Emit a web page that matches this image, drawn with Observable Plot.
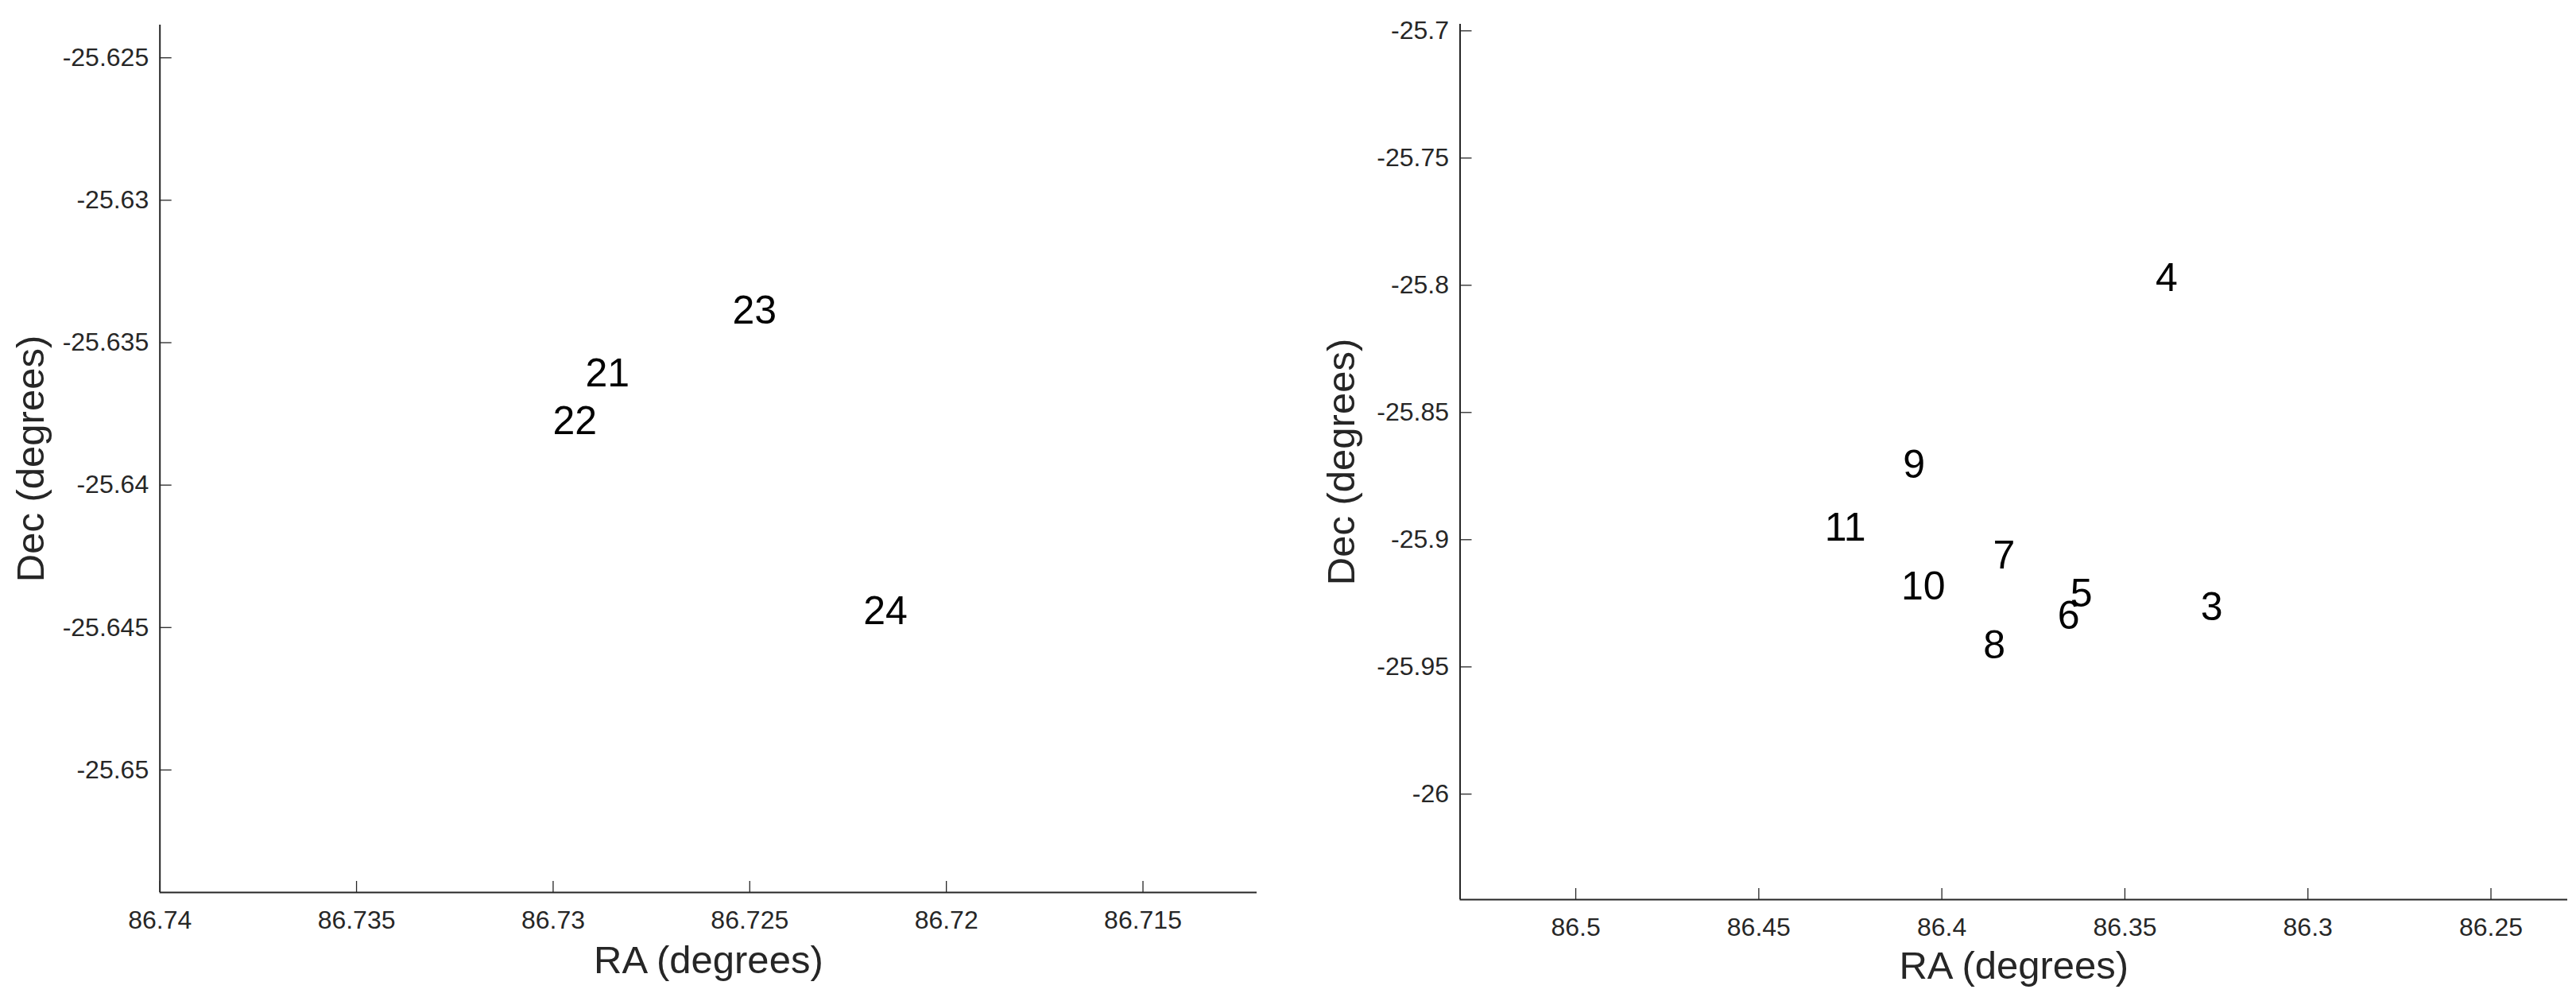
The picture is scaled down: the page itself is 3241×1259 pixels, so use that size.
<!DOCTYPE html>
<html>
<head>
<meta charset="utf-8">
<script src="https://cdn.jsdelivr.net/npm/d3@7"></script>
<script src="https://cdn.jsdelivr.net/npm/@observablehq/plot@0.6"></script>
<style>
  html, body { margin: 0; padding: 0; background: #fff; }
  #wrap { display: flex; flex-direction: row; width: 3241px; height: 1259px; }
  svg { overflow: visible; }
</style>
</head>
<body>
<div id="wrap"></div>
<script>
// ---- Left panel data ----
const leftIds = ["21", "22", "23", "24"];
const leftRA  = [86.72918, 86.73001, 86.72544, 86.72211];
const leftDec = [-25.6361, -25.63777, -25.63389, -25.64443];
const leftXTicks = [86.74, 86.735, 86.73, 86.725, 86.72, 86.715];
const leftYTicks = [-25.625, -25.63, -25.635, -25.64, -25.645, -25.65];
const leftXDomain = [86.74, 86.71210];
const leftYDomain = [-25.6543, -25.62385];

// ---- Right panel data ----
const rightIds = ["3", "4", "5", "6", "7", "8", "9", "10", "11"];
const rightRA  = [86.3293, 86.3416, 86.3649, 86.3684, 86.3860, 86.3887, 86.4106, 86.4111, 86.4320];
const rightDec = [-25.9265, -25.7973, -25.9212, -25.9301, -25.9064, -25.9415, -25.8707, -25.9184, -25.8955];
const rightXTicks = [86.5, 86.45, 86.4, 86.35, 86.3, 86.25];
const rightYTicks = [-25.7, -25.75, -25.8, -25.85, -25.9, -25.95, -26];
const rightXDomain = [86.5316, 86.22905];
const rightYDomain = [-26.04147, -25.69741];

const xLabel = "RA (degrees)";
const yLabel = "Dec (degrees)";

const axisColor = "#262626";
const fmt = d => String(d);

function panel({ids, ra, dec, xTicks, yTicks, xDomain, yDomain, width, marginLeft, marginRight, marginTop, marginBottom, xLabelDy, yLabelDx}) {
  const data = ids.map((id, i) => ({id, ra: ra[i], dec: dec[i]}));
  return Plot.plot({
    width,
    height: 1259,
    marginLeft, marginRight, marginTop, marginBottom,
    style: {fontFamily: "'Liberation Sans', Arial, Helvetica, sans-serif", fontSize: "32px", background: "white", overflow: "visible"},
    x: {domain: xDomain, label: null},
    y: {domain: yDomain, label: null},
    marks: [
      // inward tick marks
      Plot.axisX({ticks: xTicks, tickSize: -14, fill: "none", label: null, stroke: axisColor, strokeWidth: 1.3, tickFormat: () => ""}),
      Plot.axisY({ticks: yTicks, tickSize: -15, fill: "none", label: null, stroke: axisColor, strokeWidth: 1.3, tickFormat: () => ""}),
      // tick labels
      Plot.axisX({ticks: xTicks, tickSize: 0, tickPadding: 23, tickFormat: fmt, label: null, fill: axisColor, fontSize: 32}),
      Plot.axisY({ticks: yTicks, tickSize: 0, tickPadding: 14, tickFormat: fmt, label: null, fill: axisColor, fontSize: 32}),
      // axis lines (box off: left + bottom only)
      Plot.ruleX([xDomain[0]], {stroke: axisColor, strokeWidth: 2}),
      Plot.ruleY([yDomain[0]], {stroke: axisColor, strokeWidth: 2}),
      // axis labels
      Plot.text([xLabel], {frameAnchor: "bottom", dy: xLabelDy, textAnchor: "middle", lineAnchor: "middle", fontSize: 49, fill: axisColor}),
      Plot.text([yLabel], {frameAnchor: "left", dx: yLabelDx, rotate: -90, textAnchor: "middle", lineAnchor: "middle", fontSize: 49, fill: axisColor}),
      // data labels
      Plot.text(data, {x: "ra", y: "dec", text: "id", textAnchor: "start", lineAnchor: "middle", fontSize: 50, fill: "black"})
    ]
  });
}

const wrap = document.getElementById("wrap");
wrap.appendChild(panel({
  ids: leftIds, ra: leftRA, dec: leftDec, xTicks: leftXTicks, yTicks: leftYTicks,
  xDomain: leftXDomain, yDomain: leftYDomain,
  width: 1620, marginLeft: 200.7, marginRight: 39, marginTop: 31, marginBottom: 137,
  xLabelDy: 86, yLabelDx: -162.2
}));
wrap.appendChild(panel({
  ids: rightIds, ra: rightRA, dec: rightDec, xTicks: rightXTicks, yTicks: rightYTicks,
  xDomain: rightXDomain, yDomain: rightYDomain,
  width: 1621, marginLeft: 216.5, marginRight: 11, marginTop: 30, marginBottom: 128,
  xLabelDy: 84, yLabelDx: -148.5
}));
</script>
</body>
</html>
